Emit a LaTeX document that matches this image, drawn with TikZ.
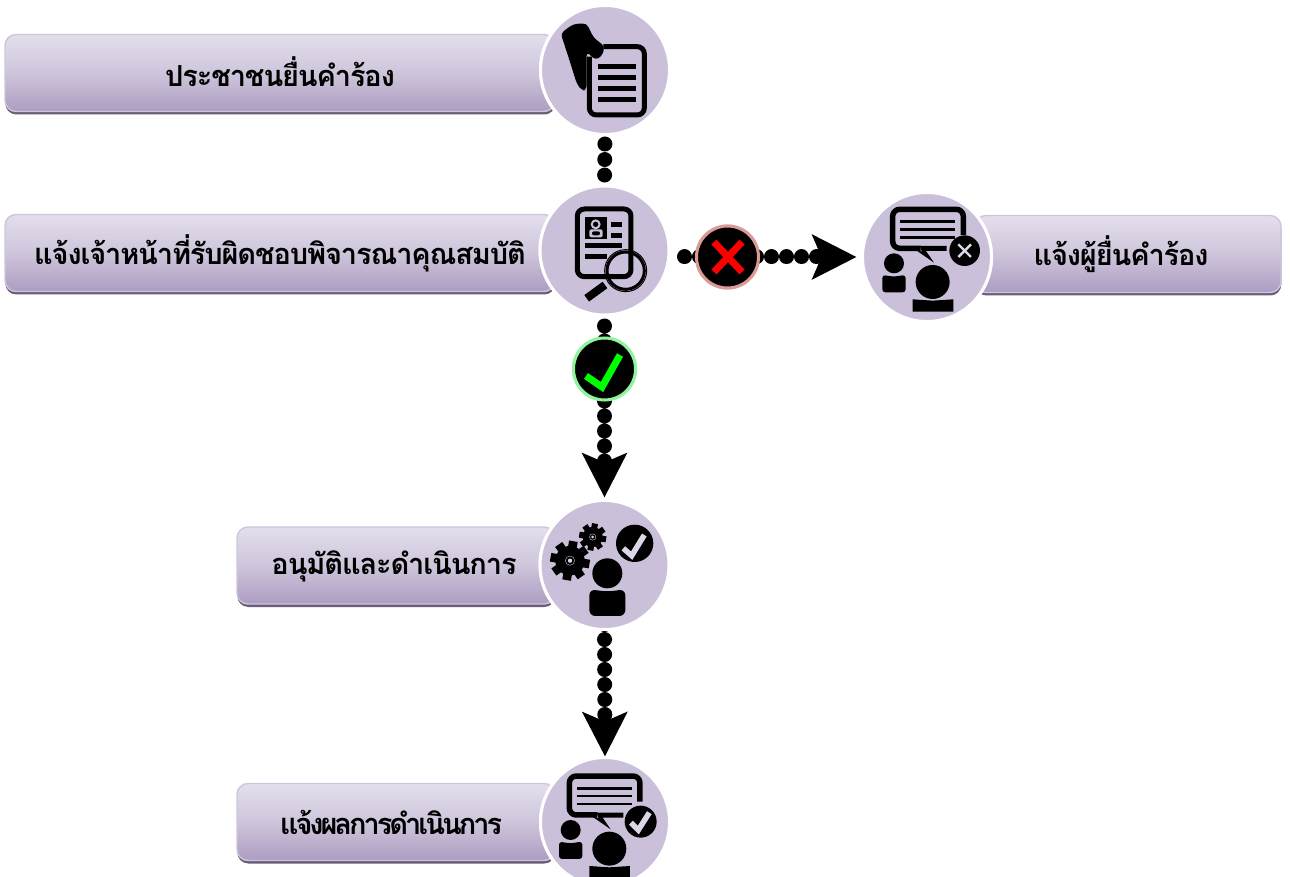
\documentclass[tikz,border=0pt]{standalone}
\usepackage{fontspec}
\newfontfamily\thaifont[Script=Thai,LetterSpace=-4]{Loma}
\newfontfamily\thaitight[Script=Thai,LetterSpace=-10.5]{Loma}
\usetikzlibrary{arrows.meta,shadows}
\definecolor{boxtop}{HTML}{E4DEEC}
\definecolor{boxmid}{HTML}{CEC5DB}
\definecolor{boxbot}{HTML}{AD9CC1}
\definecolor{boxedge}{HTML}{CFC5DC}
\definecolor{boxdark}{HTML}{6A5E78}
\definecolor{disc}{HTML}{CBC0DA}
\definecolor{noring}{HTML}{DB9A96}
\definecolor{okring}{HTML}{90F59A}
\definecolor{badgemark}{HTML}{DDD6E6}
\tikzset{
  x=1pt,y=-1pt,
  labelbox/.style={rectangle,rounded corners=11pt,inner sep=0pt,outer sep=0pt,
    draw=boxedge,line width=1.4pt,top color=boxtop,bottom color=boxbot,middle color=boxmid,
    general shadow={fill=boxdark,shadow yshift=-3pt,shadow xshift=0.3pt}},
  labeltext/.style={font=\thaifont\bfseries\fontsize{29}{32}\selectfont,text=black,inner sep=0pt},
  tighttext/.style={font=\thaitight\bfseries\fontsize{29}{32}\selectfont,text=black,inner sep=0pt},
  stepdisc/.style={circle,fill=disc,draw=white,line width=3pt,minimum size=129pt,inner sep=0pt,outer sep=0pt},
  statusdisc/.style={circle,fill=black,line width=3pt,minimum size=62pt,inner sep=0pt,outer sep=0pt},
  chain/.style={draw=black,line width=15pt,line cap=round,dash pattern=on 0.01pt off #1},
  chain/.default=14.99pt,
  bigtip/.style={-{Stealth[length=44pt,width=44pt,inset=9pt]}},
  iconline/.style={draw=black,line cap=butt,line join=round}
}
\newcommand{\inzoom}[3]{\begin{scope}[shift={(#1,#2)},x=0.3333pt,y=-0.3333pt]#3\end{scope}}
\newcommand{\gearshape}[3]{%
  \foreach \a in {0,45,...,315}{\draw[black,line width=#3*0.15pt,line cap=butt] (#1,#2) ++(\a+10:#3*0.6) -- ++(\a+10:#3*0.42);}
  \fill[black] (#1,#2) circle[radius=#3*0.76];
  \draw[disc,line width=0.4pt] (#1,#2) circle[radius=#3*0.24];
  \fill[badgemark] (#1,#2) circle[radius=#3*0.11];}
\newcommand{\speechicon}{%
  \draw[iconline,line width=5.5pt,rounded corners=7pt] (640,165) -- (640,88) -- (428,88) -- (428,205) -- (512,205);
  \fill[black] (480,198) -- (552,248) -- (528,213) -- (590,213) -- (590,198) -- (510,198) -- (516,216) -- cycle;
  \foreach \yy in {125,148,172}{\draw[iconline,line width=2.8pt] (450,\yy) -- (615,\yy);}
  \fill[black] (432,250) circle[radius=30];
  \fill[black,rounded corners=3pt] (397,285) -- (430,290) -- (467,285) -- (467,337) -- (397,337) -- cycle;
  \fill[black] (548,306) circle[radius=51];
  \fill[black] (488,358) -- (548,362) -- (610,358) -- (610,395) -- (488,395) -- cycle;}
\begin{document}
\begin{tikzpicture}
\clip (0,0) rectangle (1290,877);
\fill[white] (0,0) rectangle (1290,877);

% label boxes
\node[labelbox,minimum width=550pt,minimum height=77pt] (b1) at (280,73) {};
\node[labelbox,minimum width=550pt,minimum height=77pt] (b2) at (280,253) {};
\node[labelbox,minimum width=306pt,minimum height=77pt] (b3) at (1128,254) {};
\node[labelbox,minimum width=318pt,minimum height=77pt] (b4) at (396,565.5) {};
\node[labelbox,minimum width=318pt,minimum height=77pt] (b5) at (396,822) {};

% step discs
\node[stepdisc] (c1) at (605,70) {};
\node[stepdisc] (c2) at (604.5,250.5) {};
\node[stepdisc] (c3) at (927,257) {};
\node[stepdisc] (c4) at (604.5,565) {};
\node[stepdisc] (c5) at (605,822) {};
\node[statusdisc,draw=noring] (no) at (727.5,257) {};
\node[statusdisc,draw=okring] (ok) at (604.5,369) {};

% connectors
\draw[chain=15.5pt,shorten <=-6pt,shorten >=4pt] (c1.south) -- (c2.north);
\draw[chain,shorten <=11pt,shorten >=-8pt] (c2.south) -- (ok.north);
\draw[chain,bigtip,shorten <=1pt,shorten >=3pt] (ok.south) -- (c4.north);
\draw[chain,bigtip,shorten <=-5pt,shorten >=1pt] (c4.south) -- (c5.north);
\draw[chain,shorten <=15.5pt,shorten >=-8pt] (c2.east |- no) -- (no.west);
\draw[chain,bigtip,shorten <=-2pt,shorten >=6pt] (no.east) -- (c3.west);

% redraw the discs and status marks over the chain ends
\node[stepdisc] at (c1) {};
\node[stepdisc] at (c2) {};
\node[stepdisc] at (c3) {};
\node[stepdisc] at (c4) {};
\node[stepdisc] at (c5) {};
\node[statusdisc,draw=noring] at (no) {};
\node[statusdisc,draw=okring] at (ok) {};
\draw[red,line width=7pt] (714,242) -- (742,272) (742,242) -- (714,272);
\draw[green,line width=7pt,line join=miter] (586,376) -- (602,387) -- (620,355);

% label texts
\node[labeltext] (t1) at (280,72) {ประชาชนยื่นคำร้อง};
\node[labeltext] (t2) at (280,253) {แจ้งเจ้าหน้าที่รับผิดชอบพิจารณาคุณสมบัติ};
\node[labeltext] (t3) at (1121,254) {แจ้งผู้ยื่นคำร้อง};
\node[labeltext] (t4) at (394,566) {อนุมัติและดำเนินการ};
\node[tighttext] (t5) at (391,822) {แจ้งผลการดำเนินการ};

% icon 1: hand and document
\inzoom{530}{0}{
  \draw[iconline,line width=5pt,rounded corners=7pt] (178,170) -- (178,345) -- (343,345) -- (343,140) -- (220,140);
  \foreach \yy in {200,232,265,300}{\draw[iconline,line width=5pt] (205,\yy) -- (318,\yy);}
  \fill[black,rounded corners=4pt] (92,100) -- (130,72) -- (170,70) -- (190,112) -- (225,140) -- (215,170) -- (195,180) -- (170,155) -- (170,270) -- (155,272) -- (140,250) -- (115,170) -- cycle;
}
% icon 2: record and lens
\inzoom{530}{180}{
  \draw[iconline,line width=5pt,rounded corners=7pt] (142,87) rectangle (303,290);
  \fill[black] (165,112) rectangle (232,178);
  \fill[disc] (197,133) circle[radius=15];
  \fill[disc,rounded corners=2pt] (178,148) rectangle (218,172);
  \fill[black] (197,133) circle[radius=8];
  \fill[black,rounded corners=2pt] (186,154) rectangle (210,166);
  \foreach \yy in {135,168}{\draw[iconline,line width=5pt] (243,\yy) -- (277,\yy);}
  \draw[iconline,line width=5pt] (165,197) -- (275,197);
  \draw[iconline,line width=5pt] (165,230) -- (230,230);
  \draw[iconline,line width=3pt] (287,272) circle[radius=56];
  \draw[iconline,line width=1pt] (287,272) circle[radius=63];
  \draw[iconline,line width=8pt] (225,315) -- (170,355);
}
% icon 3: speech with refusal
\inzoom{750}{180}{
  \speechicon
  \fill[black] (644,212) circle[radius=46];
  \draw[badgemark,line width=2.4pt] (625,193) -- (663,231) (663,193) -- (625,231);
}
% icon 4: gears and person
\inzoom{530}{490}{
  \gearshape{120}{212}{58}
  \gearshape{188}{141}{40}
  \fill[black] (314,160) circle[radius=56];
  \draw[badgemark,line width=5.5pt] (280,175) -- (305,197) -- (343,135);
  \fill[black] (232,250) circle[radius=45];
  \fill[black,rounded corners=6pt] (178,298) -- (232,305) -- (286,298) -- (286,378) -- (178,378) -- cycle;
}
% icon 5: speech with approval
\inzoom{530}{750}{
  \begin{scope}[shift={(-310,-10)}]\speechicon\end{scope}
  \fill[black] (332,215) circle[radius=48];
  \draw[badgemark,line width=5.5pt] (303,218) -- (325,240) -- (358,188);
}
\end{tikzpicture}
\end{document}
